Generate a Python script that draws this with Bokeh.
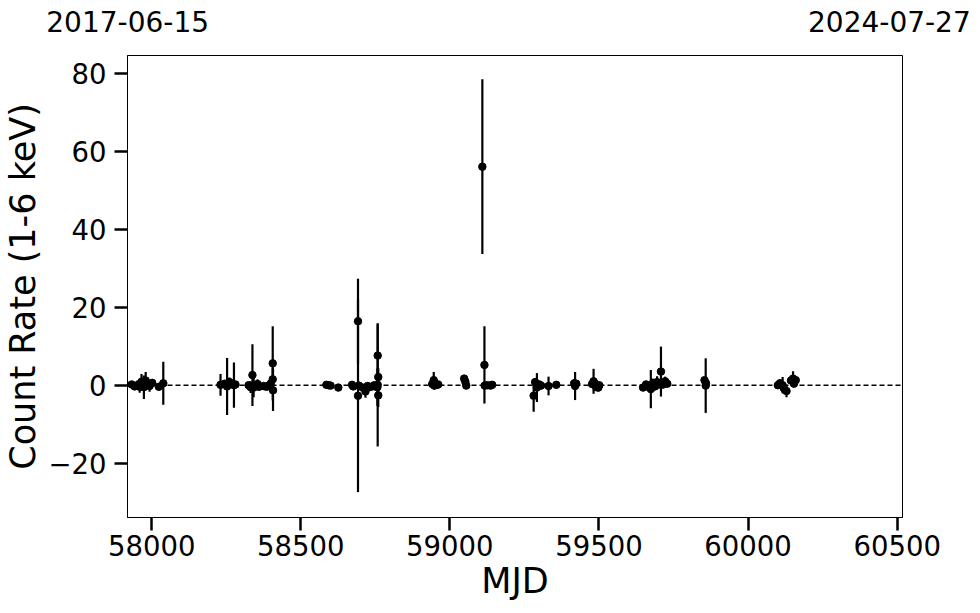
import numpy as np
from bokeh.plotting import figure
from bokeh.models import ColumnDataSource, Span, Range1d, FixedTicker, LinearAxis
from bokeh.embed import file_html
from bokeh.resources import INLINE

# ---- data ----
mjd = [57933, 57943, 57952, 57960, 57966, 57974, 57980, 57987, 57993, 58002, 58024, 58039,
       58231, 58245, 58253, 58261, 58276, 58281,
       58325, 58332, 58338, 58342, 58348, 58355, 58360,
       58375, 58385, 58392, 58399, 58406, 58406, 58407,
       58586, 58593, 58600, 58626,
       58672, 58676, 58692, 58692, 58695,
       58707, 58717, 58724, 58730, 58740, 58747,
       58754, 58758, 58758, 58760, 58760, 58757,
       58941, 58946, 58948, 58957, 58961,
       59048, 59052, 59055,
       59109, 59116, 59117, 59126, 59136, 59142,
       59281, 59286, 59292, 59300, 59306, 59331, 59357,
       59417, 59420, 59424,
       59477, 59482, 59486, 59491, 59498, 59501,
       59648, 59658, 59665, 59674, 59681, 59688, 59695, 59702, 59708, 59715, 59722, 59729,
       59854, 59858, 59859,
       60100, 60107, 60116, 60120, 60129, 60144, 60151, 60154, 60160]
rate = [0.2, -0.3, 0.0, -0.4, 0.9, -0.5, 1.2, 0.4, -0.2, 0.6, -0.4, 0.5,
        0.1, 0.4, -0.3, 0.8, 0.0, 0.2,
        0.0, -0.5, 2.6, -0.6, -0.2, 0.3, -0.4,
        -0.2, -0.4, -0.1, 0.4, 5.6, 1.5, -1.3,
        0.1, 0.0, -0.1, -0.6,
        0.1, -0.3, 16.4, -2.7, -0.1,
        -0.6, -1.6, -0.2, -0.5, -0.3, 0.0,
        -0.4, 7.6, 0.1, 2.1, -2.6, -0.5,
        0.3, 1.3, -0.1, 0.1, 0.2,
        1.7, 0.9, -0.1,
        56.0, 5.2, -0.1, 0.0, -0.1, 0.1,
        -2.7, 0.8, -0.6, 0.2, -0.1, -0.2, 0.1,
        0.5, -0.2, 0.4,
        0.3, 1.0, 0.5, -0.5, -0.6, 0.0,
        -0.6, 0.2, -0.4, -1.0, 0.5, -0.3, 0.8, 0.2, 3.5, 0.2, 1.0, 0.4,
        1.3, -0.1, 0.5,
        0.0, 0.5, 0.0, -0.8, -1.5, 1.2, 1.7, 0.4, 1.3]
err = [0.6, 0.8, 1.2, 1.5, 2.0, 3.0, 2.2, 1.0, 1.5, 1.0, 0.5, 5.5,
       2.8, 0.8, 7.3, 1.2, 5.8, 0.7,
       0.8, 1.5, 7.9, 2.5, 1.0, 1.2, 0.8,
       0.6, 0.8, 1.0, 1.8, 9.5, 3.0, 5.3,
       0.4, 0.4, 0.4, 0.5,
       0.6, 0.8, 10.9, 24.7, 1.0,
       0.8, 1.6, 0.8, 0.6, 0.5, 0.7,
       1.0, 8.0, 15.8, 2.3, 3.0, 4.8,
       0.8, 2.1, 1.0, 0.5, 0.4,
       0.6, 0.8, 0.4,
       22.4, 9.9, 0.6, 0.5, 0.4, 0.4,
       4.1, 1.0, 3.7, 0.7, 0.5, 2.4, 0.3,
       1.0, 3.6, 0.6,
       0.7, 3.2, 1.3, 0.9, 1.0, 0.6,
       0.7, 0.8, 1.0, 4.9, 1.2, 0.8, 1.5, 0.9, 6.4, 1.0, 1.2, 0.8,
       0.8, 7.0, 1.2,
       0.6, 0.8, 2.1, 0.7, 1.6, 0.6, 1.9, 0.5, 0.5]
x_ticks = [58000, 58500, 59000, 59500, 60000, 60500]
y_ticks = [-20, 0, 20, 40, 60, 80]
date_labels = ["2017-06-15", "2024-07-27"]
date_ticks = [57919.5, 60474]
x_limits = (57919, 60518)
y_limits = (-33.9, 84.5)

mjd_a = np.array(mjd, dtype=float)
rate_a = np.array(rate)
err_a = np.array(err)
src = ColumnDataSource(dict(x=mjd_a, y=rate_a, lo=rate_a - err_a, hi=rate_a + err_a))

FONT = "DejaVu Sans"
W, H = 972, 608

p = figure(width=W, height=H, output_backend="svg", toolbar_location=None,
           x_range=Range1d(*x_limits), y_range=Range1d(*y_limits),
           min_border_left=127, min_border_right=W - 902, min_border_top=55,
           min_border_bottom=H - 517)
p.grid.visible = False
p.outline_line_color = "black"
p.outline_line_width = 1
p.background_fill_color = "white"
p.border_fill_color = "white"

p.segment(x0="x", y0="lo", x1="x", y1="hi", source=src, line_color="black", line_width=2.2)
p.scatter(x="x", y="y", source=src, size=7.5, color="black")
p.add_layout(Span(location=0, dimension="width", line_color="black",
                  line_dash="5 3", line_width=1.5))

for ax in (p.xaxis[0], p.yaxis[0]):
    ax.major_label_text_font = FONT
    ax.major_label_text_font_size = "27.5px"
    ax.major_label_text_color = "black"
    ax.axis_label_text_font = FONT
    ax.axis_label_text_font_size = "35px"
    ax.axis_label_text_font_style = "normal"
    ax.axis_label_text_color = "black"
    ax.major_tick_line_width = 2.5
    ax.major_tick_line_color = "black"
    ax.major_tick_out = 13
    ax.major_tick_in = 0
    ax.minor_tick_line_color = None
    ax.axis_line_color = "black"
    ax.axis_line_width = 1

p.xaxis.ticker = FixedTicker(ticks=x_ticks)
p.yaxis.ticker = FixedTicker(ticks=y_ticks)
p.xaxis.axis_label = "MJD"
p.yaxis.axis_label = "Count Rate (1-6 keV)"
p.xaxis.major_label_standoff = 4
p.yaxis.major_label_standoff = 8
p.xaxis.axis_label_standoff = 2
p.yaxis.axis_label_standoff = 2

# top axis carrying the calendar dates of the range ends
top = LinearAxis(ticker=FixedTicker(ticks=date_ticks),
                 major_label_overrides={date_ticks[0]: date_labels[0],
                                        date_ticks[1]: date_labels[1]})
top.major_label_text_font = FONT
top.major_label_text_font_size = "28px"
top.major_label_text_color = "black"
top.major_tick_line_color = None
top.minor_tick_line_color = None
top.axis_line_color = None
top.major_tick_out = 0
top.major_tick_in = 0
top.major_label_standoff = 24
p.add_layout(top, "above")

open("out.html", "w").write(file_html(p, INLINE))
